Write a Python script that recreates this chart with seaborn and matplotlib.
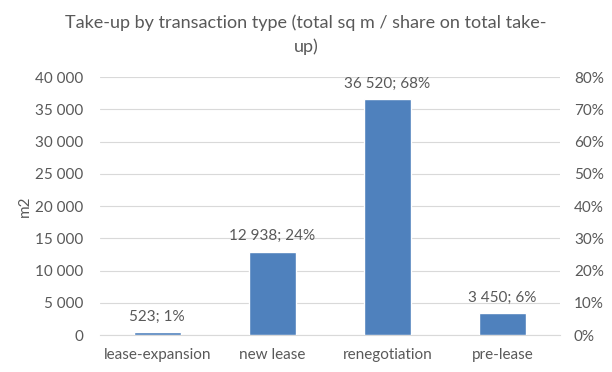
import numpy as np
import pandas as pd
import seaborn as sns
import matplotlib.pyplot as plt
from matplotlib.ticker import FuncFormatter, PercentFormatter

sns.set_style('white')
plt.rcParams['font.family'] = ['Lato', 'DejaVu Sans']

# data
categories = ['lease-expansion', 'new lease', 'renegotiation', 'pre-lease']
take_up = [523, 12938, 36520, 3450]
shares = [1, 24, 68, 6]

df = pd.DataFrame({'type': categories, 'sqm': take_up})
grey = '#595959'

fig = plt.figure(figsize=(6.12, 3.72), dpi=100)
ax = fig.add_axes([0.163, 0.099, 0.752, 0.694])

sns.barplot(data=df, x='type', y='sqm', color='#4F81BD', saturation=1, width=0.41, ax=ax, zorder=3)

ax.set_ylim(0, 40000)
ax.set_yticks(np.arange(0, 40001, 5000))
ax.yaxis.set_major_formatter(FuncFormatter(lambda v, p: f'{int(v):,}'.replace(',', ' ')))
ax.grid(axis='y', color='#D9D9D9', linewidth=0.8, zorder=0)
ax.set_xlabel('')
ax.set_ylabel('m2', color=grey, fontsize=11, labelpad=2)
ax.tick_params(axis='y', colors=grey, labelsize=11, length=0, pad=12)
ax.tick_params(axis='x', colors=grey, labelsize=11, length=0, pad=9)
for s in ax.spines.values():
    s.set_visible(False)
ax.spines['bottom'].set_visible(True)
ax.spines['bottom'].set_color('#D9D9D9')

labels = [f'{v:,}'.replace(',', ' ') + f'; {s}%' for v, s in zip(take_up, shares)]
ax.bar_label(ax.containers[0], labels=labels, padding=6, color=grey, fontsize=11)

ax2 = ax.twinx()
ax2.set_ylim(0, 0.8)
ax2.set_yticks(np.arange(0, 0.81, 0.1))
ax2.yaxis.set_major_formatter(PercentFormatter(1.0, decimals=0))
ax2.tick_params(axis='y', colors=grey, labelsize=11, length=0, pad=10)
for s in ax2.spines.values():
    s.set_visible(False)

fig.text(0.5, 0.962, 'Take-up by transaction type (total sq m / share on total take-\nup)',
         ha='center', va='top', color=grey, fontsize=13, linespacing=1.55)

fig.savefig('out.png', dpi=100, facecolor='white')
